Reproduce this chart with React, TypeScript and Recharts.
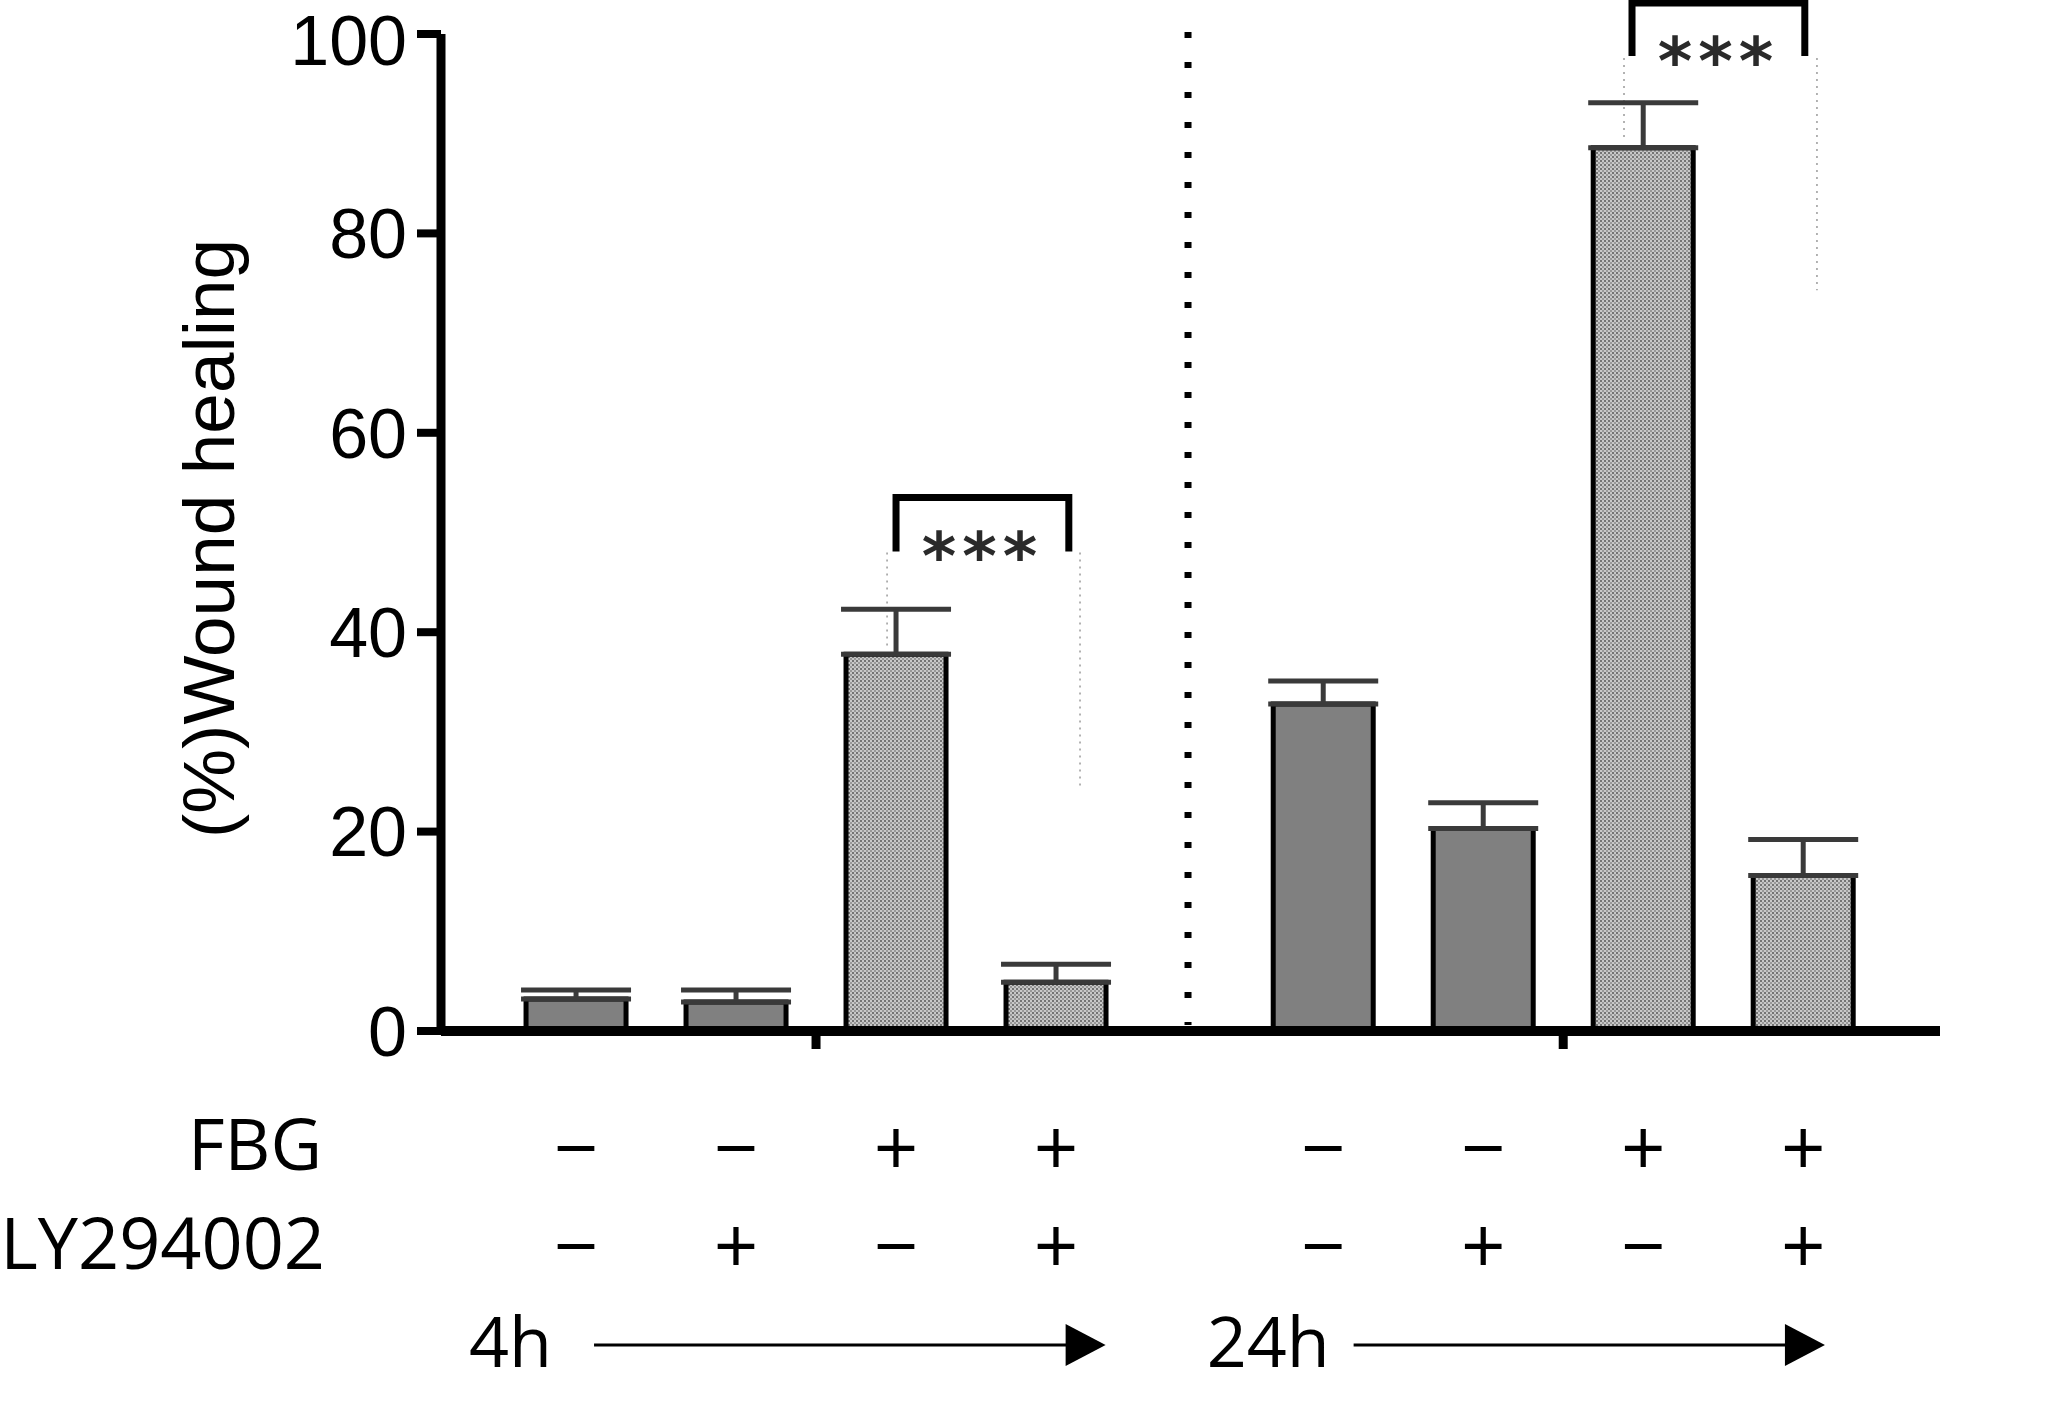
import React from 'react';
import { BarChart, Bar, Cell, XAxis, YAxis, ErrorBar, ReferenceLine, ReferenceArea } from 'recharts';

// slot of each bar on the x axis (the 24h group sits after a wider gap)
const positions = [1, 2, 3, 4, 5.67, 6.67, 7.67, 8.67];
const fbg = ['−', '−', '+', '+', '−', '−', '+', '+'];
const ly = ['−', '+', '−', '+', '−', '+', '−', '+'];
const healing = [3.2, 2.9, 37.8, 4.9, 32.8, 20.3, 88.6, 15.6];
const sem = [0.9, 1.2, 4.5, 1.8, 2.3, 2.6, 4.5, 3.6];

const yTicks = [0, 20, 40, 60, 80, 100];
const groupTicks = [2.5, 7.17];
const divider = 4.825;

const brackets = [
  { x1: 3, x2: 4.08, top: 53.5, bottom: 48.1, label: '***' },
  { x1: 7.6, x2: 8.68, top: 103.1, bottom: 97.8, label: '***' },
];
const guides = [
  { x: 2.944, from: 48.0, to: 38.2 },
  { x: 4.15, from: 48.0, to: 24.2 },
  { x: 7.55, from: 97.6, to: 89.4 },
  { x: 8.756, from: 97.6, to: 74.3 },
];
const timeline = [
  { label: '4h', from: 0.85, to: 4.31, gap: 42 },
  { label: '24h', from: 5.71, to: 8.806, gap: 24 },
];
const timelineY = -31.5;

const data = positions.map((pos, i) => ({
  pos,
  value: healing[i],
  err: [0, sem[i]],
}));

const labelFont = 'Open Sans';
const axisFont = 'Liberation Sans, Arial, sans-serif';

function BottomTick(props: any) {
  const { x, y, payload } = props;
  const i = positions.indexOf(payload.value);
  if (i < 0) {
    return <line x1={x} x2={x} y1={y} y2={y + 18} stroke="#000" strokeWidth={9} />;
  }
  return (
    <g fontFamily={labelFont} fill="#000">
      {i === 0 && (
        <>
          <text x={x - 254} y={y + 139} textAnchor="end" fontSize={71}>FBG</text>
          <text x={x - 251} y={y + 238} textAnchor="end" fontSize={72}>LY294002</text>
        </>
      )}
      <text x={x} y={y + 145} textAnchor="middle" fontSize={78}>{fbg[i]}</text>
      <text x={x} y={y + 243} textAnchor="middle" fontSize={78}>{ly[i]}</text>
    </g>
  );
}

function Bracket(props: any) {
  const { x, y, width, height, label } = props;
  return (
    <g>
      <path
        d={`M${x},${y + height} V${y} H${x + width} V${y + height}`}
        fill="none"
        stroke="#000"
        strokeWidth={7}
      />
      <text
        x={x + width / 2}
        y={y + height + 28}
        textAnchor="middle"
        fontFamily="DejaVu Sans"
        fontWeight="bold"
        fontSize={66}
        letterSpacing={6}
        fill="#2a2a2a"
      >
        {label}
      </text>
    </g>
  );
}

function TimeArrow(props: any) {
  const { x1, y1, x2, label, gap } = props;
  return (
    <g>
      <text x={x1} y={y1 + 22} textAnchor="end" fontFamily={labelFont} fontSize={70} fill="#000">
        {label}
      </text>
      <line x1={x1 + gap} x2={x2 - 36} y1={y1} y2={y1} stroke="#000" strokeWidth={3} />
      <polygon points={`${x2 - 40},${y1 - 21} ${x2},${y1} ${x2 - 40},${y1 + 21}`} fill="#000" />
    </g>
  );
}

export default function App() {
  return (
    <div style={{ width: 2047, height: 1418, background: '#fff' }}>
      <style>{'body{margin:0}'}</style>
      <BarChart
        width={2047}
        height={1418}
        data={data}
        margin={{ top: 34, right: 107, bottom: 0, left: 0 }}
      >
        <defs>
          <pattern id="stipple" width={4} height={4} patternUnits="userSpaceOnUse">
            <rect width={4} height={4} fill="#c8c8c8" />
            <rect width={2} height={2} fill="#747474" />
            <rect x={2} y={2} width={2} height={2} fill="#989898" />
          </pattern>
        </defs>
        <XAxis
          dataKey="pos"
          type="number"
          domain={[0.156, 9.525]}
          ticks={[...positions, ...groupTicks].sort((a, b) => a - b)}
          interval={0}
          height={387}
          tickSize={0}
          tickMargin={0}
          tickLine={false}
          axisLine={{ stroke: '#000', strokeWidth: 10 }}
          tick={<BottomTick />}
        />
        <YAxis
          domain={[0, 100]}
          ticks={yTicks}
          width={441}
          tickSize={24}
          tickMargin={10}
          axisLine={{ stroke: '#000', strokeWidth: 9 }}
          tickLine={{ stroke: '#000', strokeWidth: 8 }}
          tick={{ fill: '#000', fontSize: 70, fontFamily: axisFont }}
          label={{
            value: '(%)Wound healing',
            angle: -90,
            position: 'center',
            dx: -12,
            dy: 6,
            style: { fill: '#000', fontSize: 73, fontFamily: axisFont, textAnchor: 'middle' },
          }}
        />
        <ReferenceLine
          segment={[{ x: divider, y: 100.2 }, { x: divider, y: 0.6 }]}
          stroke="#000"
          strokeWidth={7}
          strokeDasharray="6 24"
          ifOverflow="visible"
        />
        {guides.map((g, i) => (
          <ReferenceLine
            key={'g' + i}
            segment={[{ x: g.x, y: g.from }, { x: g.x, y: g.to }]}
            stroke="#9a9a9a"
            strokeWidth={1.5}
            strokeDasharray="2 5"
            ifOverflow="visible"
          />
        ))}
        <Bar dataKey="value" barSize={100} isAnimationActive={false} stroke="#000" strokeWidth={5}>
          {data.map((d, i) => (
            <Cell key={i} fill={fbg[i] === '+' ? 'url(#stipple)' : '#808080'} stroke="#000" strokeWidth={5} />
          ))}
          <ErrorBar dataKey="err" width={55} stroke="#3a3a3a" strokeWidth={5} direction="y" isAnimationActive={false} />
        </Bar>
        {brackets.map((b, i) => (
          <ReferenceArea
            key={'b' + i}
            x1={b.x1}
            x2={b.x2}
            y1={b.bottom}
            y2={b.top}
            ifOverflow="visible"
            shape={(p: any) => <Bracket {...p} label={b.label} />}
          />
        ))}
        {timeline.map((t, i) => (
          <ReferenceLine
            key={'t' + i}
            segment={[{ x: t.from, y: timelineY }, { x: t.to, y: timelineY }]}
            ifOverflow="visible"
            shape={(p: any) => <TimeArrow {...p} label={t.label} gap={t.gap} />}
          />
        ))}
      </BarChart>
    </div>
  );
}
